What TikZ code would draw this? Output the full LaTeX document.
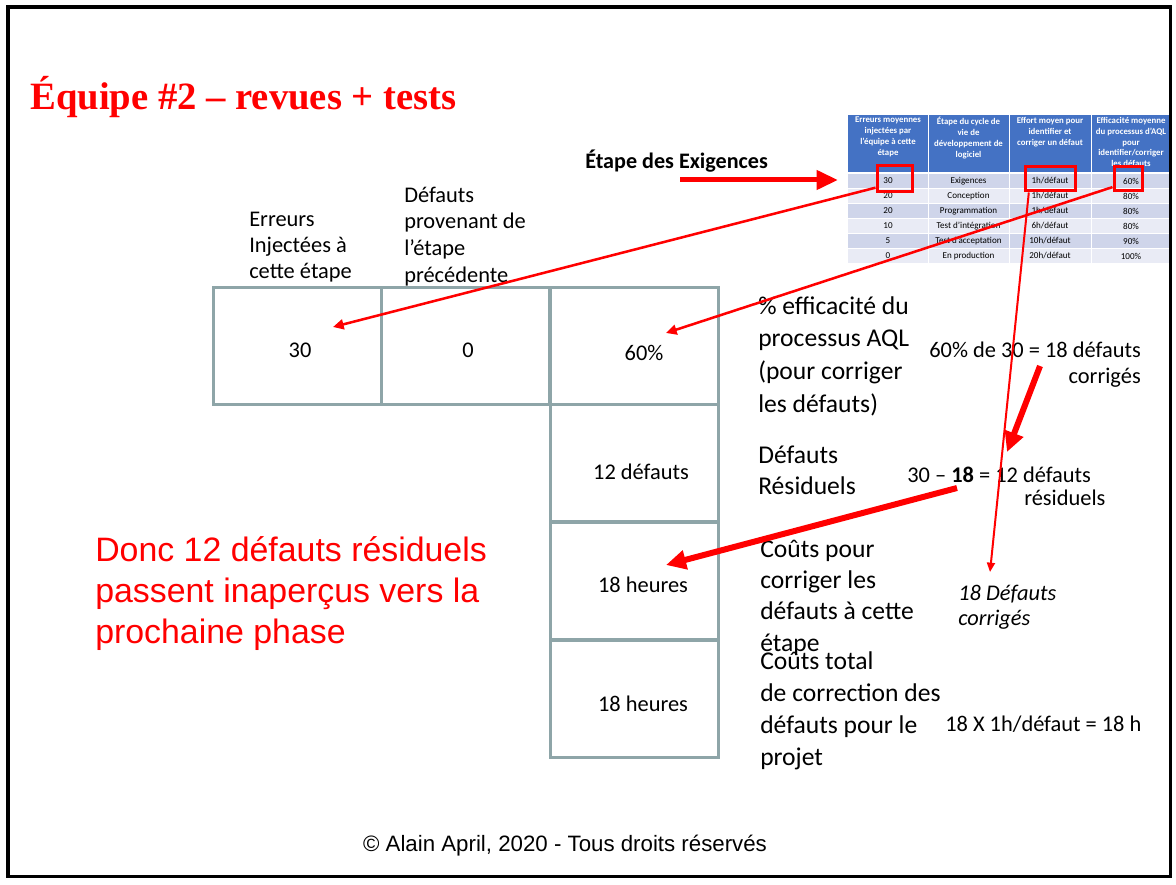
\documentclass[tikz,border=0pt]{standalone}
\usepackage{fontspec}
\setmainfont{Carlito}
\newfontfamily\arialf{Liberation Sans}
\newfontfamily\timesf{Liberation Serif}
\usetikzlibrary{arrows.meta,calc}
\definecolor{aqred}{HTML}{FF0000}
\definecolor{boxc}{HTML}{8EA5A8}
\definecolor{hdr}{HTML}{4472C4}
\definecolor{rowa}{HTML}{CFD5EA}
\definecolor{rowb}{HTML}{E9EBF5}
\begin{document}
\begin{tikzpicture}[x=0.75pt,y=-0.75pt,
  cell/.style={draw=boxc,line width=2.25pt,minimum width=126pt,minimum height=87.75pt,inner sep=0pt},
  boxtxt/.style={font=\fontsize{16.8}{20}\selectfont,inner sep=0pt},
  lbl/.style={font=\fontsize{16.8}{19.5}\selectfont,align=left,inner sep=0pt,anchor=base west},
  biglbl/.style={font=\fontsize{19.2}{24.5}\selectfont,align=left,inner sep=0pt,anchor=base west},
  hilite/.style={draw=aqred,line width=2.25pt,inner sep=0pt},
  thinarrow/.style={draw=aqred,line width=1.9pt,-{Triangle[length=8pt,width=7.5pt]}},
  thickarrow/.style={draw=aqred,line width=4.5pt,-{Triangle[length=15pt,width=14pt]}},
  hdrtxt/.style={font=\bfseries\fontsize{6.6}{8.1}\selectfont,text=white,align=center,inner sep=0pt,anchor=north},
  rowtxt/.style={font=\fontsize{6.8}{8}\selectfont,inner sep=0pt}
]
\useasboundingbox (0,0) rectangle (1176,884);
\fill[white] (0,0) rectangle (1176,884);

% title
\node[anchor=base west,inner sep=0pt,text=aqred,font=\timesf\bfseries\fontsize{29}{34}\selectfont] (title) at (30,110) {Équipe \#2 – revues + tests};

% small table
\fill[hdr] (848,115) rectangle (1172,172);
\node[hdrtxt] (h1) at (888,117) {Erreurs moyennes\\injectées par\\l’équipe à cette\\étape};
\node[hdrtxt] (h2) at (968.5,117) {Étape du cycle de\\vie de\\développement de\\logiciel};
\node[hdrtxt] (h3) at (1050,117) {Effort moyen pour\\identifier et\\corriger un défaut};
\node[hdrtxt] (h4) at (1131,117) {Efficacité moyenne\\du processus d’AQL\\pour\\identifier/corriger\\les défauts};
\foreach \k in {0,2,4} {\fill[rowa] (848,173+15*\k) rectangle (1172,188+15*\k);}
\foreach \k in {1,3,5} {\fill[rowb] (848,173+15*\k) rectangle (1172,188+15*\k);}
\foreach \a/\b/\c/\d [count=\k] in {30/Exigences/1h\slash défaut/60\%,
  20/Conception/1h\slash défaut/80\%,
  20/Programmation/1h\slash défaut/80\%,
  10/Test d’intégration/6h\slash défaut/80\%,
  5/Test d’acceptation/10h\slash défaut/90\%,
  0/En production/20h\slash défaut/100\%} {
  \node[rowtxt] (r\k a) at (888,166+15*\k) {\a};
  \node[rowtxt] (r\k b) at (968.5,166+15*\k) {\b};
  \node[rowtxt] (r\k c) at (1050,166+15*\k) {\c};
  \node[rowtxt] (r\k d) at (1131,166+15*\k) {\d};
}
\foreach \xx in {928,1009,1091} {\draw[white,line width=0.75pt] (\xx,115) -- (\xx,263);}
\foreach \k in {0,...,5} {\draw[white,line width=0.6pt] (848,173+15*\k) -- (1172,173+15*\k);}

% highlight boxes
\node[hilite,minimum width=26.25pt,minimum height=19.5pt] (rb30) at (894.5,179) {};
\node[hilite,minimum width=37.5pt,minimum height=18pt] (rb1h) at (1050,179) {};
\node[hilite,minimum width=21pt,minimum height=18pt] (rb60) at (1128,179) {};

% stage label
\node[anchor=base west,inner sep=0pt,font=\bfseries\fontsize{16.6}{20}\selectfont] (etape) at (585,169) {Étape des Exigences};
\coordinate (etS) at (680,180);
\coordinate (etE) at (838,180);
\draw[draw=aqred,line width=3.75pt,-{Triangle[length=16pt,width=14pt]}] (etS) -- (etE);

% column headers (base anchor = last line)
\node[lbl] (hErr) at (249,278) {Erreurs\\Injectées à\\cette étape};
\node[lbl,font=\fontsize{16.8}{20}\selectfont] (hDef) at (404,282) {Défauts\\provenant de\\l’étape\\précédente};

% boxes
\node[cell] (c1) at (297,345.5) {};
\node[cell] (c2) at (465.5,345.5) {};
\node[cell] (c3) at (634,345.5) {};
\node[cell] (c4) at (634,462.5) {};
\node[cell] (c5) at (634,580.5) {};
\node[cell] (c6) at (634,698.5) {};
\node[boxtxt] (t30) at (300,350) {30};
\node[boxtxt] (t0) at (468,350) {0};
\node[boxtxt] (t60) at (644,353) {60\%};
\node[boxtxt] (t12) at (641,472) {12 défauts};
\node[boxtxt] (t18a) at (643,585) {18 heures};
\node[boxtxt] (t18b) at (643,704) {18 heures};

% right labels
\node[biglbl] (lEff) at (758,412) {\% efficacité du\\processus AQL\\(pour corriger\\les défauts)};
\node[biglbl,font=\fontsize{19.2}{23.25}\selectfont] (lRes) at (758,494) {Défauts\\Résiduels};
\node[biglbl,font=\fontsize{19.2}{23.5}\selectfont] (lCout) at (760,651) {Coûts pour\\corriger les\\défauts à cette\\étape};
\node[biglbl,font=\fontsize{19.2}{24}\selectfont] (lTot) at (760,765) {Coûts total\\de correction des\\défauts pour le\\projet};

% calculations
\node[lbl,align=right,anchor=base east] (calc1) at (1141,383) {60\% de 30 = 18 défauts\\corrigés};
\node[lbl] (calc2) at (907,482) {30 – \textbf{18} = 12 défauts};
\node[lbl] (calc2b) at (1024,505) {résiduels};
\node[lbl,font=\itshape\fontsize{16.8}{18.75}\selectfont] (corr) at (958,625) {18 Défauts\\corrigés};
\node[lbl] (tot) at (945,731) {18 X 1h/défaut = 18 h};

% red statement
\node[anchor=base west,inner sep=0pt,align=left,text=aqred,font=\arialf\fontsize{25.4}{30.4}\selectfont] (donc) at (95,643) {Donc 12 défauts résiduels\\passent inaperçus vers la\\prochaine phase};

% footer
\node[anchor=base,inner sep=0pt,font=\arialf\fontsize{16.7}{20}\selectfont] (foot) at (565,851) {© Alain April, 2020 - Tous droits réservés};

% arrows
\coordinate (tip30) at (333,327);
\coordinate (tip60) at (666,333);
\coordinate (tipCor) at (990,572);
\coordinate (s18) at (1040,366);
\coordinate (e18) at (1007,452);
\coordinate (s12) at (957,488);
\coordinate (e12) at (666,565);
\draw[thinarrow] ($(rb30.west)!0.6!(rb30.south west)$) -- (tip30);
\draw[thinarrow] ($(rb60.west)!0.6!(rb60.south west)$) -- (tip60);
\draw[draw=aqred,line width=1.5pt,-{Triangle[length=7pt,width=6pt]}] ($(rb1h.south west)!0.1!(rb1h.south east)$) -- (tipCor);
\draw[thickarrow] (s18) -- (e18);
\draw[thickarrow] (s12) -- (e12);

% frame
\draw[black,line width=2.4pt] (8,7) rectangle (1170.5,876.5);
\end{tikzpicture}
\end{document}
